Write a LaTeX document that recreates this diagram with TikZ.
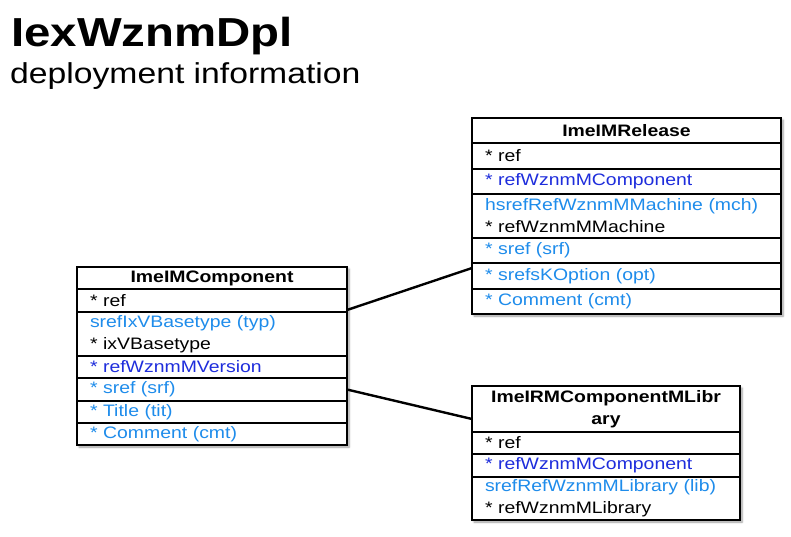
\documentclass[tikz,border=0pt]{standalone}
\usepackage{fontspec}
\setmainfont{Liberation Sans}[FakeStretch=1.17]
\usepackage{xcolor}
\usetikzlibrary{positioning,backgrounds,shadows.blur}

\definecolor{refblue}{RGB}{30,45,220}
\definecolor{attblue}{RGB}{30,140,235}
\newcommand{\fieldfont}{\fontsize{16.6}{22}\selectfont}

\begin{document}
\begin{tikzpicture}[x=1pt, y=-1pt,
    hdr/.style={draw, line width=2pt, outer sep=0pt, inner xsep=4pt, inner ysep=1pt, font=\fieldfont\bfseries, align=center, anchor=north west},
    fld/.style={draw, line width=2pt, outer sep=0pt, inner xsep=13pt, inner ysep=1pt, font=\fieldfont, align=left},
    two/.style={minimum height=44},
    rela/.style={minimum width=309, text width=283, minimum height=25},
    comp/.style={minimum width=270, text width=244, minimum height=22},
    libr/.style={minimum width=268, text width=242, minimum height=22},
    shd/.style={fill=white, blur shadow={shadow xshift=2pt, shadow yshift=-2pt, shadow blur steps=6}},
    link/.style={line width=2.4pt}
]
\useasboundingbox (0,0) rectangle (791,536);

% title
\node[anchor=base west, inner sep=0pt, font=\fontsize{40.5}{44}\selectfont\bfseries] (title) at (11,46) {IexWznmDpl};
\node[anchor=base west, inner sep=0pt, font=\fontsize{28.8}{32}\selectfont] (subtitle) at (10,83) {deployment information};

% ImeIMRelease
\node[hdr, rela, text width=301] (rel) at (472,118) {ImeIMRelease};
\node[fld, rela, minimum height=26, below=0pt of rel, text=black] (rel1) {* ref};
\node[fld, rela, below=0pt of rel1, text=refblue] (rel2) {* refWznmMComponent};
\node[fld, rela, two, below=0pt of rel2] (rel3) {\textcolor{attblue}{hsrefRefWznmMMachine (mch)}\\{}* refWznmMMachine};
\node[fld, rela, below=0pt of rel3, text=attblue] (rel4) {* sref (srf)};
\node[fld, rela, minimum height=26, below=0pt of rel4, text=attblue] (rel5) {* srefsKOption (opt)};
\node[fld, rela, below=0pt of rel5, text=attblue] (rel6) {* Comment (cmt)};

% ImeIMComponent
\node[hdr, comp, text width=262] (cmp) at (77,267) {ImeIMComponent};
\node[fld, comp, minimum height=23, below=0pt of cmp, text=black] (cmp1) {* ref};
\node[fld, comp, two, below=0pt of cmp1] (cmp2) {\textcolor{attblue}{srefIxVBasetype (typ)}\\{}* ixVBasetype};
\node[fld, comp, below=0pt of cmp2, text=refblue] (cmp3) {* refWznmMVersion};
\node[fld, comp, minimum height=23, below=0pt of cmp3, text=attblue] (cmp4) {* sref (srf)};
\node[fld, comp, below=0pt of cmp4, text=attblue] (cmp5) {* Title (tit)};
\node[fld, comp, below=0pt of cmp5, text=attblue] (cmp6) {* Comment (cmt)};

% ImeIRMComponentMLibrary
\node[hdr, libr, text width=260, minimum height=46] (lib) at (472,386) {ImeIRMComponentMLibr\\ary};
\node[fld, libr, below=0pt of lib, text=black] (lib1) {* ref};
\node[fld, libr, minimum height=23, below=0pt of lib1, text=refblue] (lib2) {* refWznmMComponent};
\node[fld, libr, minimum height=43, below=0pt of lib2] (lib3) {\textcolor{attblue}{srefRefWznmMLibrary (lib)}\\{}* refWznmMLibrary};

\begin{scope}[on background layer]
\path[shd] (rel.north west) rectangle (rel6.south east);
\path[shd] (cmp.north west) rectangle (cmp6.south east);
\path[shd] (lib.north west) rectangle (lib3.south east);
\end{scope}

\draw[link] ([yshift=2pt]cmp1.south east) -- ([yshift=-5pt]rel5.north west);
\draw[link] (cmp4.east) -- ([yshift=-10pt]lib.west);
\end{tikzpicture}
\end{document}
